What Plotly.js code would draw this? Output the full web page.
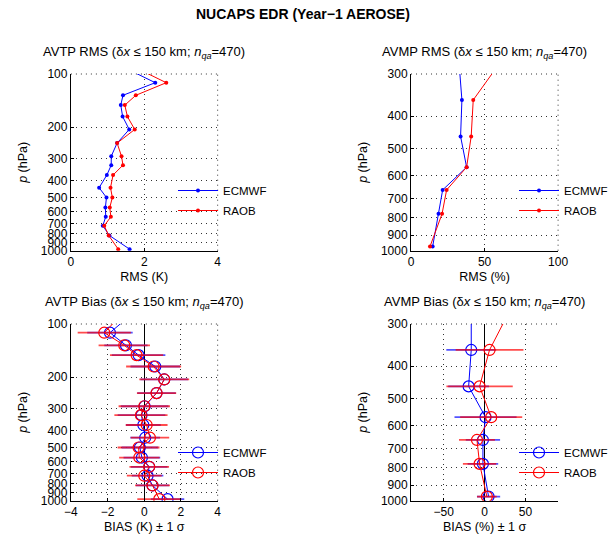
<!DOCTYPE html>
<html>
<head>
<meta charset="utf-8">
<script src="https://cdn.plot.ly/plotly-3.0.1.min.js"></script>
<style>html,body{margin:0;padding:0;background:#fff;}#chart{width:613px;height:537px;}</style>
</head>
<body>
<div id="chart"></div>
<script>
// ---- Data ----
// AVTP pressure levels (hPa); the first level lies above the 100 hPa plot top
const levT = [92, 112, 132, 150, 174, 206, 246, 292, 328, 373, 440, 500, 570, 643, 722, 820, 980];
const rmsT_ecmwf = [1.46, 2.30, 1.42, 1.36, 1.41, 1.59, 1.26, 1.10, 1.10, 0.98, 0.77, 0.97, 0.94, 0.95, 0.87, 1.05, 1.60];
const rmsT_raob  = [1.76, 2.60, 1.77, 1.47, 1.54, 1.74, 1.26, 1.38, 1.42, 1.15, 1.08, 1.13, 1.06, 1.09, 0.91, 1.03, 1.29];
const biasT_ecmwf = [-0.90, -1.87, -1.00, -0.31, 0.60, 1.09, 0.67, 0.02, -0.15, -0.05, 0.05, -0.24, -0.13, 0.27, 0.18, 0.45, 1.27];
const biasT_raob  = [-1.40, -2.18, -1.09, -0.42, 0.51, 1.09, 0.67, 0.00, -0.18, 0.13, 0.31, -0.31, -0.27, 0.27, 0.00, 0.45, 0.82];
const sdT_ecmwf = [0, 1.24, 1.18, 1.46, 1.35, 1.30, 1.05, 1.30, 1.30, 0.95, 0.81, 1.00, 1.00, 1.00, 0.86, 0.90, 0.91];
const sdT_raob  = [0, 1.45, 1.40, 1.45, 1.50, 1.36, 1.07, 1.40, 1.45, 1.14, 1.05, 1.14, 1.10, 1.08, 0.95, 0.95, 1.20];

// AVMP pressure levels (hPa); the first level lies above the 300 hPa plot top
const levQ = [280, 358, 459, 566, 661, 778, 972];
const rmsQ_ecmwf = [32.7, 34.6, 33.7, 37.8, 21.5, 18.7, 14.7];
const rmsQ_raob  = [59.9, 42.3, 40.9, 37.8, 24.2, 21.1, 12.9];
const biasQ_ecmwf = [-16.3, -16.3, -19.5, 1.2, -2.0, -2.0, 4.9];
const biasQ_raob  = [28.8, 6.1, -6.1, 8.1, -9.3, -6.1, 2.8];
const sdQ_ecmwf = [0, 30.5, 25.0, 38.0, 21.0, 18.7, 14.2];
const sdQ_raob  = [0, 41.5, 40.6, 38.0, 22.0, 20.4, 12.0];

const pTicksT = [100, 200, 300, 400, 500, 600, 700, 800, 900, 1000];
const pTicksQ = [300, 400, 500, 600, 700, 800, 900, 1000];
const names = ['ECMWF', 'RAOB'];

// ---- Styles ----
const FONT = 'Liberation Sans, Arial, Helvetica, sans-serif';
const BLUE = '#0000ff', RED = '#ff0000';
const DOT = '1px,4px';
const GRIDC = '#333';

function rmsTrace(x, y, color, name, xa, ya, leg) {
  return {x: x, y: y, type: 'scatter', mode: 'lines+markers', name: name,
    xaxis: xa, yaxis: ya, legend: leg, legendgroup: leg + name,
    line: {color: color, width: 1}, marker: {color: color, size: 4, symbol: 'circle'}};
}
function biasTrace(x, y, sd, color, barColor, name, xa, ya, leg) {
  return {x: x, y: y, type: 'scatter', mode: 'lines+markers', name: name,
    xaxis: xa, yaxis: ya, legend: leg, legendgroup: leg + name,
    line: {color: color, width: 1},
    marker: {color: color, size: 11, symbol: 'circle-open', line: {width: 1.2, color: color}},
    error_x: {type: 'data', array: sd, visible: true, color: barColor, thickness: 1.8, width: 0}};
}

const data = [
  rmsTrace(rmsT_ecmwf, levT, BLUE, names[0], 'x', 'y', 'legend'),
  rmsTrace(rmsT_raob, levT, RED, names[1], 'x', 'y', 'legend'),
  rmsTrace(rmsQ_ecmwf, levQ, BLUE, names[0], 'x2', 'y2', 'legend2'),
  rmsTrace(rmsQ_raob, levQ, RED, names[1], 'x2', 'y2', 'legend2'),
  biasTrace(biasT_ecmwf, levT, sdT_ecmwf, BLUE, 'rgba(40,40,255,0.8)', names[0], 'x3', 'y3', 'legend3'),
  biasTrace(biasT_raob, levT, sdT_raob, RED, 'rgba(255,0,0,0.7)', names[1], 'x3', 'y3', 'legend3'),
  biasTrace(biasQ_ecmwf, levQ, sdQ_ecmwf, BLUE, 'rgba(40,40,255,0.8)', names[0], 'x4', 'y4', 'legend4'),
  biasTrace(biasQ_raob, levQ, sdQ_raob, RED, 'rgba(255,0,0,0.7)', names[1], 'x4', 'y4', 'legend4')
];

const W = 613, H = 537;
const px = v => v / W;
const py = v => 1 - v / H;

function xAxis(dom, anchor, range, ticks, title, zero) {
  return {domain: dom, anchor: anchor, range: range, tickmode: 'array', tickvals: ticks,
    ticks: 'inside', ticklen: 3, tickcolor: '#000', showline: true, linecolor: '#000', linewidth: 1,
    mirror: false, showgrid: true, gridcolor: GRIDC, griddash: DOT, gridwidth: 1,
    zeroline: zero, zerolinecolor: '#000', zerolinewidth: 1.5,
    tickfont: {family: FONT, size: 12, color: '#000'},
    title: {text: title, font: {family: FONT, size: 12.5, color: '#000'}, standoff: 4}, fixedrange: true};
}
function yAxis(dom, anchor, range, ticks) {
  return {domain: dom, anchor: anchor, type: 'log', range: range,
    tickmode: 'array', tickvals: ticks, ticktext: ticks.map(String),
    ticks: 'inside', ticklen: 3, tickcolor: '#000', showline: true, linecolor: '#000', linewidth: 1,
    showgrid: true, gridcolor: GRIDC, griddash: DOT, gridwidth: 1, zeroline: false,
    tickfont: {family: FONT, size: 12, color: '#000'},
    title: {text: '<i>p</i> (hPa)', font: {family: FONT, size: 12.5, color: '#000'}, standoff: 10}, fixedrange: true};
}

const xL = [px(71), px(218)], xR = [px(411.7), px(559)];
const yTop = [py(250.7), py(74)], yBot = [py(500.7), py(324)];

function legendAt(xpx, ypx) {
  return {x: px(xpx), y: py(ypx), xanchor: 'left', yanchor: 'top', bgcolor: 'rgba(0,0,0,0)',
    borderwidth: 0, font: {family: FONT, size: 11.5, color: '#000'}, traceorder: 'grouped',
    tracegroupgap: 1, itemwidth: 40};
}

// dotted edge lines where a tick falls on the plot's top or right edge
function edge(xa, ya, side) {
  const s = {type: 'line', xref: xa + ' domain', yref: ya + ' domain',
    line: {color: GRIDC, width: 1, dash: DOT}, layer: 'below'};
  if (side === 'top') Object.assign(s, {x0: 0, x1: 1, y0: 1, y1: 1});
  else Object.assign(s, {x0: 1, x1: 1, y0: 0, y1: 1});
  return s;
}

const sub = '(δ<i>x</i> ≤ 150 km; <i>n</i><sub><i>qa</i></sub>=470)';
function subTitle(text, xc, yc) {
  return {text: text, x: px(xc), y: py(yc), xref: 'paper', yref: 'paper', showarrow: false,
    xanchor: 'center', yanchor: 'middle', font: {family: FONT, size: 13, color: '#000'}};
}

const layout = {
  width: W, height: H, margin: {l: 0, r: 0, t: 0, b: 0},
  paper_bgcolor: '#fff', plot_bgcolor: '#fff', showlegend: true,
  font: {family: FONT, color: '#000'},
  xaxis: xAxis(xL, 'y', [0, 4], [0, 2, 4], 'RMS (K)', false),
  yaxis: yAxis(yTop, 'x', [3, 2], pTicksT),
  xaxis2: xAxis(xR, 'y2', [0, 100], [0, 50, 100], 'RMS (%)', false),
  yaxis2: yAxis(yTop, 'x2', [3, Math.log10(300)], pTicksQ),
  xaxis3: xAxis(xL, 'y3', [-4, 4], [-4, -2, 0, 2, 4], 'BIAS (K) ± 1 σ', true),
  yaxis3: yAxis(yBot, 'x3', [3, 2], pTicksT),
  xaxis4: xAxis(xR, 'y4', [-90, 90], [-50, 0, 50], 'BIAS (%) ± 1 σ', true),
  yaxis4: yAxis(yBot, 'x4', [3, Math.log10(300)], pTicksQ),
  legend: legendAt(173, 176),
  legend2: legendAt(515, 176),
  legend3: legendAt(173, 438),
  legend4: legendAt(515, 438),
  shapes: [
    edge('x', 'y', 'top'), edge('x', 'y', 'right'),
    edge('x2', 'y2', 'top'), edge('x2', 'y2', 'right'),
    edge('x3', 'y3', 'top'), edge('x3', 'y3', 'right'),
    edge('x4', 'y4', 'top')
  ],
  annotations: [
    {text: '<b>NUCAPS EDR (Year−1 AEROSE)</b>', x: px(303), y: py(14), xref: 'paper', yref: 'paper',
      showarrow: false, xanchor: 'center', yanchor: 'middle', font: {family: FONT, size: 14, color: '#000'}},
    subTitle('AVTP RMS ' + sub, 144.5, 52),
    subTitle('AVMP RMS ' + sub, 485, 52),
    subTitle('AVTP Bias ' + sub, 144.5, 302),
    subTitle('AVMP Bias ' + sub, 485, 302)
  ]
};

Plotly.newPlot('chart', data, layout, {staticPlot: true, displayModeBar: false});
</script>
</body>
</html>
